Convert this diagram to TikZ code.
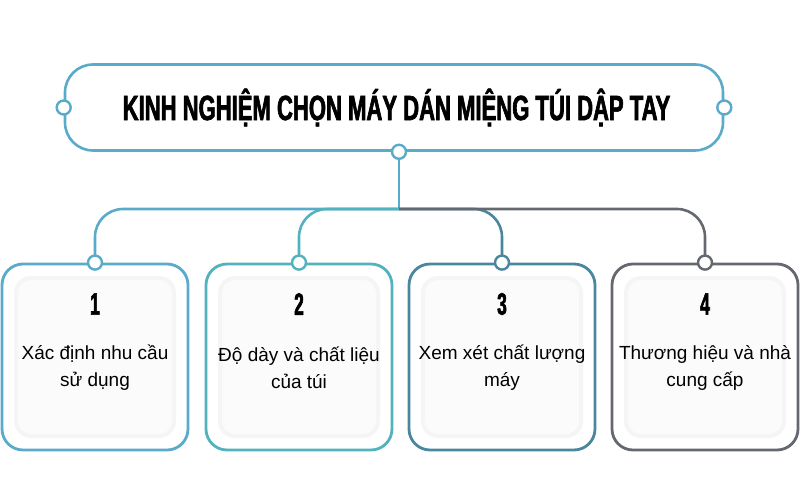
\documentclass[tikz,border=0pt]{standalone}
\usepackage{fontspec}
\setmainfont{Liberation Sans}
\newfontfamily\headfont[FakeStretch=0.63, FakeBold=1.8]{Liberation Sans}
\newfontfamily\numfont[FakeStretch=0.56, FakeBold=1.8]{Liberation Sans}
\usetikzlibrary{positioning}

\definecolor{cblue}{HTML}{5AAAC9}
\definecolor{cteal}{HTML}{52B2BD}
\definecolor{cdeep}{HTML}{4A879E}
\definecolor{cgray}{HTML}{65686F}

\tikzset{
  titlebox/.style={draw=cblue, line width=2.6pt, rounded corners=28pt, minimum width=658pt, minimum height=86pt, fill=white},
  card/.style={line width=2.8pt, rounded corners=21pt, minimum width=186pt, minimum height=186pt, fill=white},
  panel/.style={draw=black!4, line width=4pt, fill=black!1.5, rounded corners=15pt, minimum width=158pt, minimum height=158pt},
  dot/.style={circle, line width=2.4pt, fill=white, minimum size=14pt, inner sep=0pt},
  link/.style={line width=2.6pt, rounded corners=28pt},
  numtext/.style={font=\numfont\bfseries\fontsize{31}{34}\selectfont},
  labeltext/.style={align=center, font=\fontsize{19}{27}\selectfont}
}

\begin{document}
\begin{tikzpicture}[x=1pt, y=-1pt]
\useasboundingbox (0,0) rectangle (800,500);

\node[titlebox] (title) at (394,107.5) {};
\node[font=\headfont\bfseries\fontsize{35}{40}\selectfont] (titletext) at (396.5,107.5) {KINH NGHIỆM CHỌN MÁY DÁN MIỆNG TÚI DẬP TAY};

\coordinate (hub) at (399,209);
\coordinate (top) at (title.south -| hub);
\node[card, draw=cblue] (c1) at (95,357) {};
\node[card, draw=cteal] (c2) at (299,357) {};
\node[card, draw=cdeep] (c3) at (502,357) {};
\node[card, draw=cgray] (c4) at (705,357) {};

\draw[link, cblue] (top) -- (hub);
\draw[link, cblue] (hub) -| (c1.north);
\draw[link, cteal] (hub) -| (c2.north);
\draw[link, cdeep] (hub) -| (c3.north);
\draw[link, cgray] (hub) -- (c4.north |- hub) -- (c4.north);

\node[dot, draw=cblue] (dl) at (title.west) {};
\node[dot, draw=cblue] (dr) at (title.east) {};
\node[dot, draw=cblue] (ds) at (top) {};
\node[dot, draw=cblue] (d1) at (c1.north) {};
\node[dot, draw=cteal] (d2) at (c2.north) {};
\node[dot, draw=cdeep] (d3) at (c3.north) {};
\node[dot, draw=cgray] (d4) at (c4.north) {};

\node[panel] (p1) at (c1.center) {};
\node[panel] (p2) at (c2.center) {};
\node[panel] (p3) at (c3.center) {};
\node[panel] (p4) at (c4.center) {};

\node[numtext] (n1) at (95,304) {1};
\node[numtext] (n2) at (299,304) {2};
\node[numtext] (n3) at (502,304) {3};
\node[numtext] (n4) at (705,304) {4};

\node[labeltext] (l1) at (95,368) {Xác định nhu cầu\\sử dụng};
\node[labeltext] (l2) at (299,368) {Độ dày và chất liệu\\của túi};
\node[labeltext] (l3) at (502,368) {Xem xét chất lượng\\máy};
\node[labeltext] (l4) at (705,368) {Thương hiệu và nhà\\cung cấp};

\end{tikzpicture}
\end{document}
